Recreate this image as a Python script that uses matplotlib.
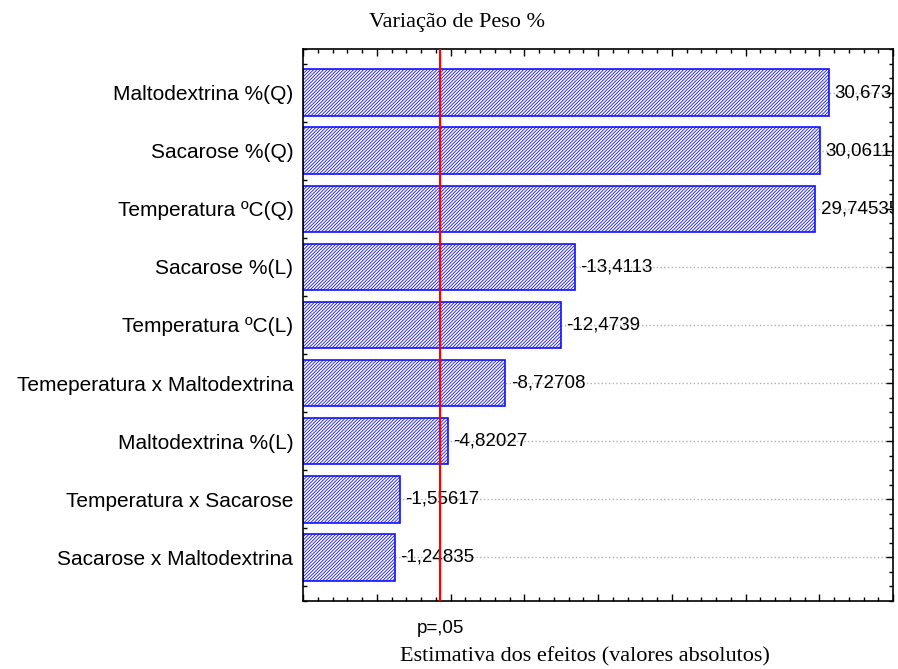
import matplotlib
matplotlib.use("Agg")
import matplotlib.pyplot as plt
from matplotlib.ticker import MultipleLocator, NullFormatter

# ---- data ----
factors = [
    "Maltodextrina %(Q)",
    "Sacarose %(Q)",
    "Temperatura ºC(Q)",
    "Sacarose %(L)",
    "Temperatura ºC(L)",
    "Temeperatura x Maltodextrina",
    "Maltodextrina %(L)",
    "Temperatura x Sacarose",
    "Sacarose x Maltodextrina",
]
effects = [30.67301, 30.06111, 29.74535, -13.4113, -12.4739, -8.72708,
           -4.82027, -1.55617, -1.24835]
p_crit = 4.303
p_label = "p=,05"
title = "Variação de Peso %"
xlabel = "Estimativa dos efeitos (valores absolutos)"
x_min, x_max = -5, 35

plt.rcParams['hatch.linewidth'] = 0.6
plt.rcParams['hatch.color'] = '#3030ff'

W, H = 898, 669
fig = plt.figure(figsize=(W / 100, H / 100), dpi=100)
ax = fig.add_axes([303 / W, (H - 601) / H, (893 - 303) / W, (601 - 49) / H])

ypos = list(range(len(factors)))
widths = [abs(v) - x_min for v in effects]
ax.barh(ypos, widths, left=x_min, height=0.8, color='white',
        edgecolor='#1010ff', linewidth=1.2, hatch='/' * 10, zorder=2)

for y, v in zip(ypos, effects):
    ax.text(abs(v) + 0.35, y, f"{v}".replace('.', ','), va='center', ha='left',
            fontsize=13.5, family='Liberation Sans', clip_on=True, zorder=4)

ax.axvline(p_crit, color='#ff0000', lw=1.6, zorder=5)

ax.set_xlim(x_min, x_max)
ax.set_ylim(len(factors) - 0.25, -0.75)
ax.set_yticks(ypos)
ax.set_yticklabels(factors, family='Liberation Sans', fontsize=15)
ax.yaxis.set_minor_locator(MultipleLocator(0.25))
ax.xaxis.set_major_locator(MultipleLocator(5))
ax.xaxis.set_minor_locator(MultipleLocator(1))
ax.xaxis.set_major_formatter(NullFormatter())
ax.grid(axis='y', which='major', color='#b0b0b0', linestyle=':', lw=1.0, zorder=1)
ax.set_axisbelow(True)
ax.tick_params(which='both', direction='in', top=True, right=True, width=1.0)
ax.tick_params(which='major', length=5, pad=7)
ax.tick_params(which='minor', length=3)
for s in ax.spines.values():
    s.set_linewidth(1.2)

ax.text(p_crit, -0.035, p_label, transform=ax.get_xaxis_transform(),
        ha='center', va='top', fontsize=13.5, family='Liberation Sans')

fig.text(457 / W, 1 - 22 / H, title, ha='center', va='center',
         fontsize=16, family='Liberation Serif')
fig.text(585 / W, 1 - 657 / H, xlabel, ha='center', va='center',
         fontsize=16, family='Liberation Serif')

fig.savefig("out.png", dpi=100)
